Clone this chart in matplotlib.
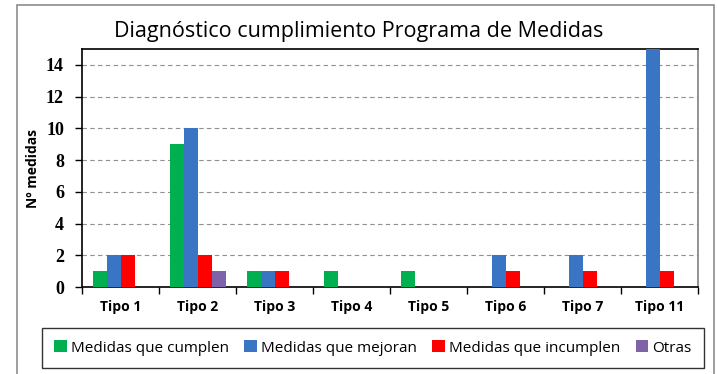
import matplotlib.pyplot as plt
from matplotlib.patches import Rectangle
import numpy as np

categorias = ["Tipo 1", "Tipo 2", "Tipo 3", "Tipo 4", "Tipo 5", "Tipo 6", "Tipo 7", "Tipo 11"]
series = ["Medidas que cumplen", "Medidas que mejoran", "Medidas que incumplen", "Otras"]
cumplen = [1, 9, 1, 1, 1, 0, 0, 0]
mejoran = [2, 10, 1, 0, 0, 2, 2, 15]
incumplen = [2, 2, 1, 0, 0, 1, 1, 1]
otras = [0, 1, 0, 0, 0, 0, 0, 0]
colores = ["#00b050", "#3a75c4", "#ff0000", "#7f63a8"]

plt.rcParams['font.family'] = ['Open Sans', 'DejaVu Sans']

fig = plt.figure(figsize=(7.18, 3.74), dpi=100)
# marco exterior del grafico
fig.patches.append(Rectangle((17 / 718, -0.01), 697 / 718, 1 - 5 / 374 + 0.01,
                             transform=fig.transFigure, fill=False,
                             edgecolor="#8c8c8c", linewidth=1.2))

ax = fig.add_axes([82 / 718, 1 - 287 / 374, 616 / 718, 238 / 374])

x = np.arange(len(categorias))
w = 1 / 5.5
for i, (vals, col, nombre) in enumerate(zip([cumplen, mejoran, incumplen, otras], colores, series)):
    ax.bar(x + (i - 1.5) * w, vals, width=w, color=col, label=nombre, zorder=3)

ax.set_xlim(-0.5, len(categorias) - 0.5)
ax.set_ylim(0, 15)
ax.set_yticks(range(0, 15, 2))
ax.set_xticks(x)
ax.set_xticklabels(categorias, fontweight='bold', fontsize=10)
ax.set_xticks(np.arange(-0.5, len(categorias)), minor=True)
ax.tick_params(axis='x', which='major', length=0, pad=9)
ax.tick_params(axis='x', which='minor', length=5, width=1)
ax.tick_params(axis='y', length=5, width=1, pad=8, labelsize=13)
for t in ax.get_yticklabels():
    t.set_fontfamily('Liberation Serif')
    t.set_fontweight('bold')

ax.yaxis.grid(True, linestyle=(0, (4, 3)), color="#909090", linewidth=0.8, zorder=0)
for s in ["left", "bottom", "top"]:
    ax.spines[s].set_color("black")
    ax.spines[s].set_linewidth(1.2)
ax.spines["right"].set_color("#808080")
ax.spines["right"].set_linewidth(1.2)

ax.set_ylabel("Nº medidas", fontweight='bold', fontsize=10, labelpad=4)
fig.text(0.5, 1 - 32 / 374, "Diagnóstico cumplimiento Programa de Medidas",
         ha='center', va='center', fontsize=15.5)

leg = fig.legend(loc='center', bbox_to_anchor=(373 / 718, 1 - 348 / 374), ncol=4,
                 fontsize=11, frameon=True, fancybox=False, edgecolor="black",
                 handlelength=0.8, handleheight=0.8, handletextpad=0.3,
                 columnspacing=1.0, borderpad=0.8)
leg.get_frame().set_linewidth(1.0)

fig.savefig("out.png", dpi=100)
